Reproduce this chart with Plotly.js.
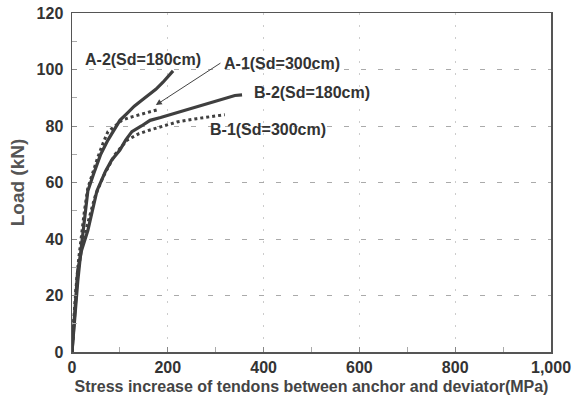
<!DOCTYPE html>
<html>
<head>
<meta charset="utf-8">
<script src="https://cdn.plot.ly/plotly-3.0.1.min.js"></script>
<style>html,body{margin:0;padding:0;background:#fff}#chart{width:580px;height:398px}</style>
</head>
<body>
<div id="chart"></div>
<script>
// A-2 (Sd=180cm), solid
const a2X = [0, 5, 12, 20, 28, 33, 45, 60, 75, 90, 100, 115, 130, 145, 160, 175, 190, 200, 211];
const a2Y = [0, 12, 25, 38, 50, 57, 63, 70, 75, 79, 82, 84.5, 87, 89, 91, 93, 95.5, 97.5, 99.5];
// A-1 (Sd=300cm), dotted
const a1X = [0, 3, 8, 14, 20, 26, 33, 42, 54, 65, 75, 90, 104, 120, 140, 160, 177];
const a1Y = [0, 10, 22, 33, 42, 50, 58, 63, 69, 74, 78, 80, 82, 83, 84, 85, 85.7];
// B-2 (Sd=180cm), solid
const b2X = [0, 6, 12, 20, 33, 52, 70, 83, 100, 112, 125, 145, 163, 185, 205, 240, 274, 310, 340, 355];
const b2Y = [0, 15, 29, 36, 43, 57, 64, 68, 71.5, 75, 78, 80, 82, 83, 84, 85.7, 87.4, 89.3, 90.8, 91];
// B-1 (Sd=300cm), dotted
const b1X = [0, 5, 12, 20, 32, 48, 65, 80, 90, 115, 140, 163, 190, 219, 260, 290, 319];
const b1Y = [0, 14, 28, 37, 45, 55, 62, 67, 70, 75, 77.3, 78.6, 80, 81.4, 82.6, 83.3, 84];

const labels = ["A-2(Sd=180cm)", "A-1(Sd=300cm)", "B-2(Sd=180cm)", "B-1(Sd=300cm)"];
const labelX = [148, 438, 501, 409];
const labelY = [103.4, 102.3, 92, 78.6];
const arrowHead = [175, 87.4];
const arrowTail = [313, 102.6];

const ink = "#3f3f3f";
const traces = [
  {x: a2X, y: a2Y, mode: "lines", line: {color: ink, width: 3.2}, name: labels[0]},
  {x: a1X, y: a1Y, mode: "lines", line: {color: ink, width: 3, dash: "dot"}, name: labels[1]},
  {x: b2X, y: b2Y, mode: "lines", line: {color: ink, width: 3.2}, name: labels[2]},
  {x: b1X, y: b1Y, mode: "lines", line: {color: ink, width: 3, dash: "dot"}, name: labels[3]}
];

const fam = "Liberation Sans, Arial, sans-serif";
const font = {family: fam, size: 16, color: "#333", weight: "bold"};
const annotations = labels.map((t, i) => ({
  x: labelX[i], y: labelY[i], xref: "x", yref: "y", text: t,
  showarrow: false, font: font
}));
annotations.push({
  x: arrowHead[0], y: arrowHead[1], ax: arrowTail[0], ay: arrowTail[1],
  xref: "x", yref: "y", axref: "x", ayref: "y", text: "", showarrow: true,
  arrowhead: 2, arrowsize: 1.2, arrowwidth: 1, arrowcolor: "#444"
});

const layout = {
  width: 580, height: 398,
  margin: {l: 72, r: 29, t: 13, b: 46},
  paper_bgcolor: "#fff", plot_bgcolor: "#fff",
  showlegend: false,
  font: font,
  xaxis: {
    range: [0, 1000], dtick: 200, tick0: 0, tickformat: ",d",
    ticks: "inside", ticklen: 5, tickcolor: "#888",
    minor: {dtick: 100, ticks: "inside", ticklen: 5, tickcolor: "#aaa"},
    showline: true, mirror: true, linecolor: "#555", linewidth: 1.5,
    showgrid: true, gridcolor: "#ccc", griddash: "2px,10px", gridwidth: 1,
    zeroline: false,
    tickfont: {family: fam, size: 16, color: "#333", weight: "bold"},
    title: {text: "Stress increase of tendons between anchor and deviator(MPa)", standoff: 6,
            font: {family: fam, size: 16, color: "#444", weight: "bold"}}
  },
  yaxis: {
    range: [0, 120], dtick: 20, tick0: 0,
    ticks: "inside", ticklen: 5, tickcolor: "#888",
    minor: {dtick: 10, ticks: "inside", ticklen: 5, tickcolor: "#aaa"},
    showline: true, mirror: true, linecolor: "#555", linewidth: 1.5,
    showgrid: true, gridcolor: "#aaa", griddash: "5px,12px", gridwidth: 1,
    zeroline: false,
    ticklabelstandoff: 4,
    tickfont: {family: fam, size: 16, color: "#333", weight: "bold"},
    title: {text: "Load (kN)", standoff: 7,
            font: {family: fam, size: 19, color: "#555", weight: "bold"}}
  },
  annotations: annotations
};

Plotly.newPlot("chart", traces, layout, {staticPlot: true, displayModeBar: false});
</script>
</body>
</html>
